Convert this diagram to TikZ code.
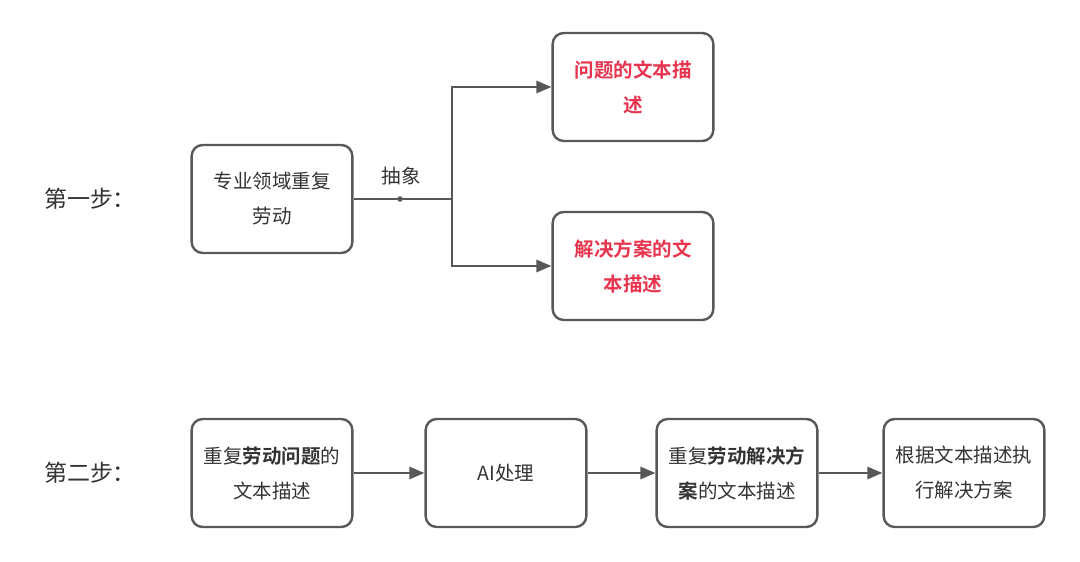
\documentclass[tikz,border=0pt]{standalone}
\usepackage{fontspec}
\setmainfont{Noto Sans CJK SC}[BoldFont={Noto Sans CJK SC Bold}]
\usetikzlibrary{arrows.meta}
\definecolor{lineg}{HTML}{585858}
\definecolor{txtg}{HTML}{333333}
\definecolor{hired}{HTML}{E8344E}
\tikzset{
  box/.style={draw=lineg, line width=2.4pt, rounded corners=11pt, minimum width=156pt, minimum height=108pt, text width=154pt, align=center, font=\fontsize{19.5}{35}\selectfont, text=txtg},
  link/.style={draw=lineg, line width=2.6pt, -{Triangle[length=15pt,width=12pt]}},
  steplabel/.style={font=\fontsize{23}{26}\selectfont, text=txtg}
}
\begin{document}
\begin{tikzpicture}[x=1pt,y=-1pt]
  \useasboundingbox (0,0) rectangle (1080,562);
  % first step
  \node[steplabel] (s1) at (90,199) {第一步：};
  \node[box] (src) at (272,199) {专业领域重复\\劳动};
  \node[box, text=hired] (prob) at (633,87) {\textbf{问题的文本描}\\\textbf{述}};
  \node[box, text=hired] (sol) at (633,266) {\textbf{解决方案的文}\\\textbf{本描述}};
  \coordinate (mid) at (400,199);
  \coordinate (fork) at (452,199);
  \fill[lineg] (mid) circle (2.8pt);
  \node[font=\fontsize{19.5}{22}\selectfont, text=txtg] (abs) at (401,176) {抽象};
  \draw[draw=lineg, line width=2.6pt] (src.east) -- (fork);
  \draw[link] (fork) |- (prob.west);
  \draw[link] (fork) |- (sol.west);
  % second step
  \node[steplabel] (s2) at (90,473) {第二步：};
  \node[box] (b1) at (272,473) {重复\textbf{劳动问题}的\\文本描述};
  \node[box] (b2) at (506,473) {AI处理};
  \node[box] (b3) at (737,473) {重复\textbf{劳动解决方}\\\textbf{案}的文本描述};
  \node[box] (b4) at (964,473) {根据文本描述执\\行解决方案};
  \draw[link] (b1) -- (b2);
  \draw[link] (b2) -- (b3);
  \draw[link] (b3) -- (b4);
\end{tikzpicture}
\end{document}
